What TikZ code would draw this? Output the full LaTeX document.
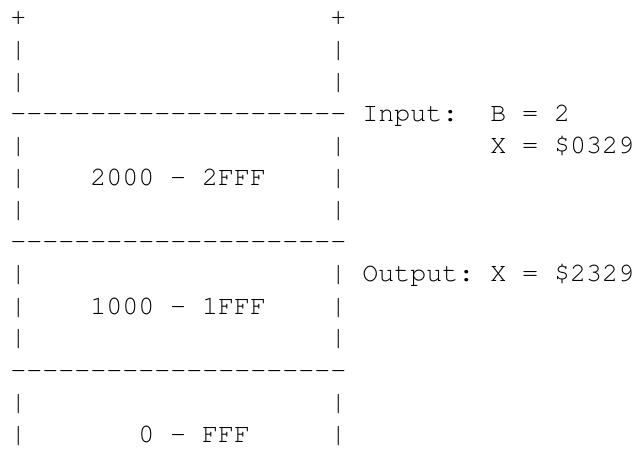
\documentclass[tikz,border=0pt]{standalone}
\usepackage[T1]{fontenc}
\usepackage{courier}
\usepackage{tikz}
\usetikzlibrary{positioning}

\begin{document}
\begin{tikzpicture}[x=12pt,y=24pt,
    row/.style={font=\ttfamily\fontsize{20}{24}\selectfont,inner sep=0pt,anchor=base west}]
    \useasboundingbox (-7.5pt,19.5pt) rectangle (468.75pt,-327.75pt);
    % top corners
    \node[row] (c1) at (0,0) {+};
    \node[row] (c2) at (20,0) {+};
    % side walls
    \foreach \r in {1,2,4,5,6,8,9,10,12,13} {
        \node[row] (l\r) at (0,-\r) {|};
        \node[row] (r\r) at (20,-\r) {|};
    }
    % separators
    \foreach \r in {3,7,11}
        \node[row] (d\r) at (0,-\r) {-{}-{}-{}-{}-{}-{}-{}-{}-{}-{}-{}-{}-{}-{}-{}-{}-{}-{}-{}-{}-{}};
    % ranges
    \node[row] (m1) at (5,-5) {2000 - 2FFF};
    \node[row] (m2) at (5,-9) {1000 - 1FFF};
    \node[row] (m3) at (8,-13) {0 - FFF};
    % input / output
    \node[row] (in) at (22,-3) {Input:};
    \node[row] (inb) at (30,-3) {B = 2};
    \node[row] (inx) at (30,-4) {X = \$0329};
    \node[row] (out) at (22,-8) {Output:};
    \node[row] (outx) at (30,-8) {X = \$2329};
\end{tikzpicture}
\end{document}
